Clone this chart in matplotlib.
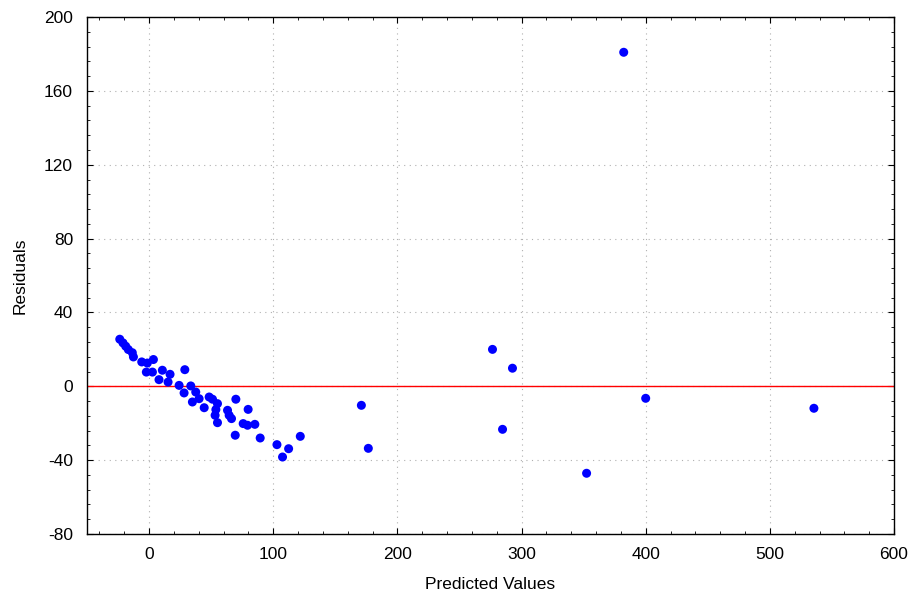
import matplotlib.pyplot as plt
from matplotlib.ticker import MultipleLocator

# predicted values / residuals
predicted = [-23.6, -21.0, -18.8, -16.7, -13.5, -12.6, -5.9, -1.4, 3.5, -2.2,
             2.7, 10.7, 16.9, 8.0, 15.3, 28.8, 24.2, 33.6, 28.2, 37.6,
             34.9, 40.3, 44.4, 48.4, 51.1, 55.1, 53.8, 53.2, 55.1, 63.2,
             64.5, 66.4, 69.9, 69.4, 79.8, 75.8, 79.3, 85.2, 89.5, 103.0,
             112.4, 107.5, 121.8,
             171.0, 176.6, 276.6, 292.7, 284.7, 352.4, 382.3, 400.0, 535.5]
residuals = [25.5, 23.5, 21.7, 19.9, 18.2, 15.9, 13.2, 12.6, 14.5, 7.7,
             7.7, 8.7, 6.5, 3.6, 2.3, 9.0, 0.5, 0.2, -3.6, -3.1,
             -8.5, -6.7, -11.6, -5.8, -7.0, -9.4, -12.6, -15.7, -19.7, -13.0,
             -15.7, -17.5, -7.0, -26.5, -12.5, -20.2, -21.1, -20.6, -28.0, -31.6,
             -33.8, -38.3, -27.1,
             -10.3, -33.6, 20.0, 9.8, -23.3, -47.1, 180.9, -6.5, -11.9]

xticks = [0, 100, 200, 300, 400, 500, 600]
yticks = [-80, -40, 0, 40, 80, 120, 160, 200]

plt.rcParams['font.family'] = ['Liberation Sans', 'DejaVu Sans']
plt.rcParams['axes.unicode_minus'] = False

fig = plt.figure(figsize=(9.09, 5.97), dpi=100)
ax = fig.add_axes([0.0957, 0.1055, 0.8878, 0.866])

ax.axhline(0, color='#ff0000', lw=1.0, zorder=2)
ax.scatter(predicted, residuals, s=42, color='#0000ff', edgecolors='none', zorder=3)

ax.set_xlim(-50, 600)
ax.set_ylim(-80, 200)
ax.set_xticks(xticks)
ax.set_yticks(yticks)
ax.xaxis.set_minor_locator(MultipleLocator(20))
ax.yaxis.set_minor_locator(MultipleLocator(8))
ax.tick_params(which='both', direction='in', top=True, right=True, labelsize=12.5)
ax.tick_params(axis='x', pad=9)
ax.tick_params(axis='y', pad=10)
ax.tick_params(which='major', length=4)
ax.tick_params(which='minor', length=2.5)
ax.grid(True, which='major', linestyle=(0, (1, 4)), color='#b0b0b0', lw=0.8)
for sp in ax.spines.values():
    sp.set_linewidth(1.0)

ax.set_xlabel('Predicted Values', fontsize=12.5, labelpad=11)
ax.set_ylabel('Residuals', fontsize=12.5, labelpad=12)

fig.savefig('out.png', dpi=100)
